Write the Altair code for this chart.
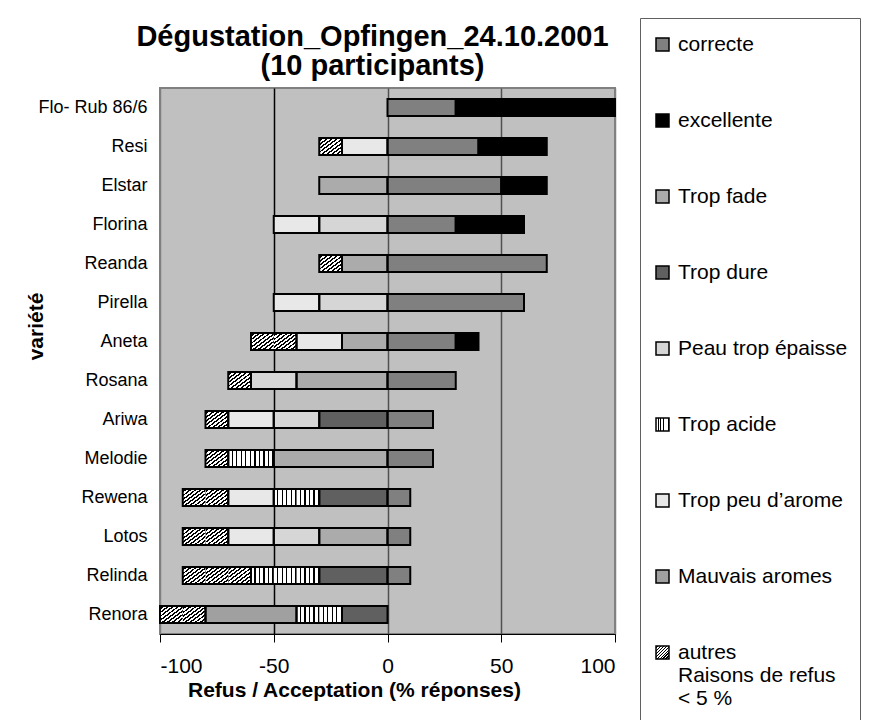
import altair as alt
import pandas as pd

varieties = ["Flo- Rub 86/6", "Resi", "Elstar", "Florina", "Reanda", "Pirella", "Aneta",
             "Rosana", "Ariwa", "Melodie", "Rewena", "Lotos", "Relinda", "Renora"]

# acceptation (positive)
correcte   = [30, 40, 50, 30, 70, 60, 30, 30, 20, 20, 10, 10, 10, 0]
excellente = [70, 30, 20, 30, 0, 0, 10, 0, 0, 0, 0, 0, 0, 0]
# refus (negative), listed from zero outwards
trop_fade  = [0, 0, 30, 0, 20, 0, 20, 40, 0, 50, 0, 30, 0, 0]
trop_dure  = [0, 0, 0, 0, 0, 0, 0, 0, 30, 0, 30, 0, 30, 20]
peau       = [0, 0, 0, 30, 0, 30, 0, 20, 20, 0, 0, 20, 0, 0]
trop_acide = [0, 0, 0, 0, 0, 0, 0, 0, 0, 20, 20, 0, 30, 20]
trop_peu   = [0, 20, 0, 20, 0, 20, 20, 0, 20, 0, 20, 20, 0, 0]
mauvais    = [0, 0, 0, 0, 0, 0, 0, 0, 0, 0, 0, 0, 0, 40]
autres     = [0, 10, 0, 0, 10, 0, 20, 10, 10, 10, 20, 20, 30, 20]

categories = ["correcte", "excellente", "Trop fade", "Trop dure", "Peau trop épaisse",
              "Trop acide", "Trop peu d\u2019arome", "Mauvais aromes", "autres"]


def stripes(x2, y2, n, dark):
    stops = []
    for k in range(n):
        a = k / n
        b = (k + 1 - dark) / n
        c = (k + 1) / n
        stops += [(a, "white"), (b, "white"), (b, "black"), (c, "black")]
    s = ", ".join("{offset: %.4f, color: '%s'}" % (o, col) for o, col in stops)
    return {"expr": "{gradient: 'linear', x1: 0, y1: 0, x2: %s, y2: %s, stops: [%s]}" % (x2, y2, s)}


fills = ["#808080", "#000000", "#ababab", "#606060", "#d6d6d6",
         stripes(1, 0, 5, 0.28), "#e8e8e8", "#a0a0a0", stripes(1, 1, 9, 0.45)]
textured = {"Trop acide", "autres"}

pos_series = [("correcte", correcte), ("excellente", excellente)]
neg_series = [("Trop fade", trop_fade), ("Trop dure", trop_dure), ("Peau trop épaisse", peau),
              ("Trop acide", trop_acide), ("Trop peu d\u2019arome", trop_peu),
              ("Mauvais aromes", mauvais), ("autres", autres)]

segs, pieces = [], []
for i, v in enumerate(varieties):
    for sign, series in ((1, pos_series), (-1, neg_series)):
        acc = 0
        for name, vals in series:
            w = vals[i]
            if w <= 0:
                continue
            s0, s1 = acc, acc + sign * w
            segs.append({"variete": v, "cat": name, "start": s0, "end": s1})
            if name in textured:
                for k in range(w // 10):
                    pieces.append({"variete": v, "cat": name,
                                   "start": s0 + sign * 10 * k, "end": s0 + sign * 10 * (k + 1)})
            else:
                pieces.append({"variete": v, "cat": name, "start": s0, "end": s1})
            acc = s1
seg_df = pd.DataFrame(segs)
piece_df = pd.DataFrame(pieces)

font = "Liberation Sans"

y_enc = alt.Y("variete:N", sort=varieties,
              scale=alt.Scale(paddingInner=0.56, paddingOuter=0.28),
              axis=alt.Axis(title="variété", titleFontSize=21, titleFontWeight="bold",
                            titleX=-114, titleY=238, titleAngle=-90, titleBaseline="bottom",
                            titleAlign="center",
                            labelFontSize=18, labelPadding=13, labelColor="black",
                            ticks=False, domain=False))
x_enc = alt.X("start:Q", scale=alt.Scale(domain=[-100, 100], nice=False, zero=False),
              axis=alt.Axis(title="Refus / Acceptation (% réponses)", titleFontSize=21,
                            titleFontWeight="bold", titlePadding=3, titleX=194,
                            titleAlign="center",
                            values=[-100, -50, 0, 50, 100], labelExpr="'' + datum.value",
                            labelFontSize=21, labelColor="black", labelPadding=13,
                            tickColor="black", tickSize=8, tickWidth=1,
                            domainColor="black", domainWidth=1,
                            grid=True, gridWidth=1.5,
                            gridColor={"condition": [
                                {"test": "abs(datum.value) == 100", "value": "#808080"},
                                {"test": "datum.value == -50", "value": "#000000"}],
                                "value": "#505050"}))

legend_labels = ("datum.label == 'autres' ? ['autres', 'Raisons de refus', '< 5 %'] : "
                 "(indexof(datum.label, 'Peau') == 0 ? datum.label + '\u2003\u2003' : datum.label)")

fill_layer = alt.Chart(piece_df).mark_bar(strokeWidth=0).encode(
    y=y_enc, x=x_enc, x2="end:Q",
    fill=alt.Fill("cat:N", scale=alt.Scale(domain=categories, range=fills),
                  legend=alt.Legend(title=" ", titleFontSize=2, titlePadding=2,
                                    orient="none", legendX=480, legendY=-70,
                                    symbolType="square", symbolSize=169,
                                    symbolStrokeColor="black", symbolStrokeWidth=1.5,
                                    labelFontSize=21, labelColor="black", labelLimit=400,
                                    labelOffset=5, rowPadding=54, padding=12,
                                    strokeColor="#606060", fillColor="white",
                                    labelExpr=legend_labels)),
)

outline_layer = alt.Chart(seg_df).mark_bar(fillOpacity=0, stroke="black", strokeWidth=2).encode(
    y=y_enc, x=x_enc, x2="end:Q",
)

chart = alt.layer(fill_layer, outline_layer).properties(
    width=455, height=546,
    autosize=alt.AutoSizeParams(type="none"),
    padding={"left": 152, "top": 80, "right": 248, "bottom": 86},
    title=alt.TitleParams(["Dégustation_Opfingen_24.10.2001", "(10 participants)"],
                          fontSize=29, fontWeight="bold", anchor="middle", frame="group",
                          baseline="bottom", offset=0, dy=92, dx=-15, color="black",
                          lineHeight=29),
).configure(font=font).configure_view(
    fill="#c0c0c0", stroke="#808080", strokeWidth=2
)

chart.save("out.html", embed_options={"renderer": "svg", "actions": False})
